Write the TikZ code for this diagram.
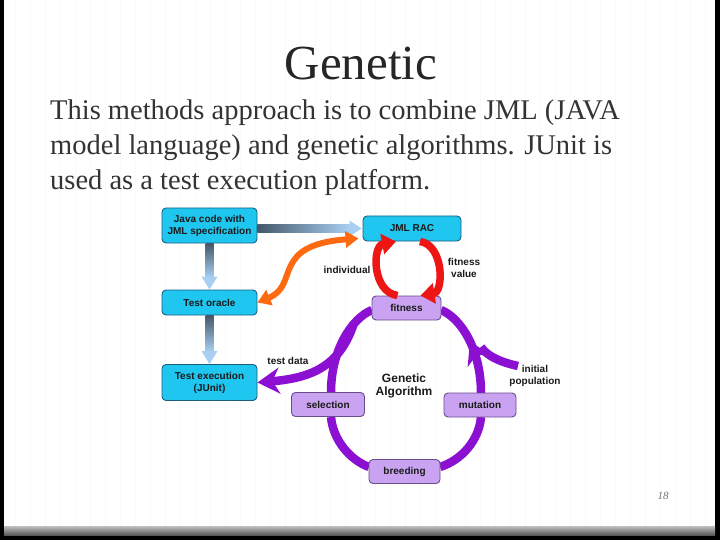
\documentclass[tikz,border=0pt]{standalone}
\usepackage{fontspec}
\setmainfont{Liberation Serif}
\newfontfamily\diagfont{Liberation Sans}
\usetikzlibrary{arrows.meta,calc,decorations.markings}

\definecolor{boxcyan}{HTML}{1EC6F0}
\definecolor{cyanedge}{HTML}{1D5F80}
\definecolor{boxlilac}{HTML}{C9A3F2}
\definecolor{lilacedge}{HTML}{6B4C8C}
\definecolor{gapurple}{HTML}{8C10D2}
\definecolor{racred}{HTML}{EE1515}
\definecolor{indorange}{HTML}{FF6A10}
\definecolor{flowdark}{HTML}{44586A}
\definecolor{flowlight}{HTML}{A9D0F2}
\definecolor{bodytext}{HTML}{333333}
\definecolor{labeltext}{HTML}{1A1A1A}

\tikzset{
  javabox/.style={draw=cyanedge, fill=boxcyan, rounded corners=4pt, line width=0.9pt,
    align=center, inner sep=1pt, text=labeltext,
    font=\diagfont\bfseries\fontsize{10}{12}\selectfont},
  gabox/.style={draw=lilacedge, fill=boxlilac, rounded corners=4pt, line width=0.9pt,
    minimum height=24pt, inner sep=1pt, text=labeltext,
    font=\diagfont\bfseries\fontsize{10}{12}\selectfont},
  flowlabel/.style={align=center, inner sep=0pt, text=labeltext,
    font=\diagfont\bfseries\fontsize{10}{12}\selectfont},
  galoop/.style={draw=gapurple, color=gapurple, line width=8.5pt},
  gatip/.style={-{Stealth[length=22pt,width=26pt,inset=7pt]}},
  racloop/.style={draw=racred, line width=7.5pt, -{Triangle[length=14pt,width=20pt]}},
  indwave/.style={draw=indorange, line width=6pt,
    {Triangle[length=13pt,width=16pt]}-{Triangle[length=13pt,width=16pt]}},
  pagegrid/.style={draw=black!2.5, line width=0.5pt, step=15},
}

\begin{document}
\begin{tikzpicture}[x=1pt,y=-1pt]
	\useasboundingbox (0,0) rectangle (720,540);
	% slide background
	\fill[black] (0,0) rectangle (720,540);
	\fill[white] (4,0) rectangle (715,526);
	\draw[pagegrid] (4,0) grid (715,526);
	\shade[top color=black!25, bottom color=black!65] (4,526) rectangle (715,535);

	% title and text
	\node[anchor=base, text=black!85, font=\fontsize{49}{55}\selectfont] (title) at (361,80) {Genetic};
	\node[anchor=base west, inner sep=0pt, text=bodytext, font=\fontsize{28.5}{35}\selectfont] (intro1) at (50,120) {This methods approach is to combine JML (JAVA};
	\node[anchor=base west, inner sep=0pt, text=bodytext, font=\fontsize{28.5}{35}\selectfont] (intro2) at (50,155) {model language) and genetic algorithms. JUnit is};
	\node[anchor=base west, inner sep=0pt, text=bodytext, font=\fontsize{28.5}{35}\selectfont] (intro3) at (50,190) {used as a test execution platform.};
	\node[text=black!55, font=\itshape\fontsize{11}{12}\selectfont] (pageno) at (663,496) {18};

	% boxes
	\node[javabox, minimum width=95pt, minimum height=35pt] (java) at (209.5,225.5) {Java code with\\JML specification};
	\node[javabox, minimum width=98pt, minimum height=25pt] (jml) at (412,228.5) {JML RAC};
	\node[javabox, minimum width=95pt, minimum height=25pt] (oracle) at (209.5,302.5) {Test oracle};
	\node[javabox, minimum width=95pt, minimum height=36pt] (exec) at (209.5,382.5) {Test execution\\(JUnit)};

	% loop of the genetic algorithm (under its boxes)
	\coordinate (popin) at (518,366);
	\coordinate (popjoin) at (481,347);
	\coordinate (tdstart) at (354,323);
	\draw[galoop] (331,392) .. controls (331,350) and (352,318) .. (372,310);
	\draw[galoop, postaction={decorate, decoration={markings,
	    mark=at position 0.55 with {\arrow{Stealth[length=22pt,width=26pt,inset=7pt]}}}}]
	  (481,393) .. controls (481,350) and (461,318) .. (441,310);
	\draw[galoop] (481,417) .. controls (479,440) and (462,460) .. (440,467);
	\draw[galoop] (369,467) .. controls (350,460) and (333,440) .. (331,417);
	\draw[galoop] (popin) .. controls (500,362) and (487,356) .. (popjoin);
	\draw[galoop, gatip] (tdstart) .. controls (340,366) and (312,378) .. (exec.east);

	\node[gabox, minimum width=69pt] (fitness) at (406.5,308) {fitness};
	\node[gabox, minimum width=73pt] (selection) at (328,404.5) {selection};
	\node[gabox, minimum width=72pt] (mutation) at (480,405) {mutation};
	\node[gabox, minimum width=71pt] (breeding) at (404.5,471.5) {breeding};

	% gradient flow arrows
	\coordinate (racin) at ($(java.east)+(0,3)$);
	\shade[left color=flowdark, right color=flowlight] ($(racin)+(0,-4)$) rectangle ($(racin -| jml.west)+(-12,4)$);
	\fill[flowlight] ($(racin -| jml.west)+(-13,-8)$) -- ($(racin -| jml.west)+(-1,0)$) -- ($(racin -| jml.west)+(-13,8)$) -- cycle;
	\shade[top color=flowdark, bottom color=flowlight] ($(java.south)+(-4,0)$) rectangle ($(oracle.north)+(4,-12)$);
	\fill[flowlight] ($(oracle.north)+(-8,-13)$) -- (oracle.north) -- ($(oracle.north)+(8,-13)$) -- cycle;
	\shade[top color=flowdark, bottom color=flowlight] ($(oracle.south)+(-4,0)$) rectangle ($(exec.north)+(4,-12)$);
	\fill[flowlight] ($(exec.north)+(-8,-13)$) -- (exec.north) -- ($(exec.north)+(8,-13)$) -- cycle;

	% RAC cycle and individuals
	\draw[racloop] ([xshift=-9pt]fitness.north) .. controls (372,292) and (372,246) .. ([xshift=-16pt]jml.south);
	\draw[racloop] ([xshift=8pt]jml.south) .. controls (444,245) and (444,292) .. ([xshift=14pt]fitness.north);
	\draw[indwave] (oracle.east) .. controls (300,285) and (270,245) .. ([xshift=-4pt,yshift=3pt]jml.south west);

	% labels
	\node[flowlabel, font=\diagfont\bfseries\fontsize{12}{13.5}\selectfont] (galabel) at (404,386) {Genetic\\Algorithm};
	\node[flowlabel] (indlabel) at (347,270) {individual};
	\node[flowlabel] (fitlabel) at (464,268) {fitness\\value};
	\node[flowlabel] (tdlabel) at (288,361) {test data};
	\node[flowlabel] (poplabel) at (535,376) {initial\\population};
\end{tikzpicture}
\end{document}
